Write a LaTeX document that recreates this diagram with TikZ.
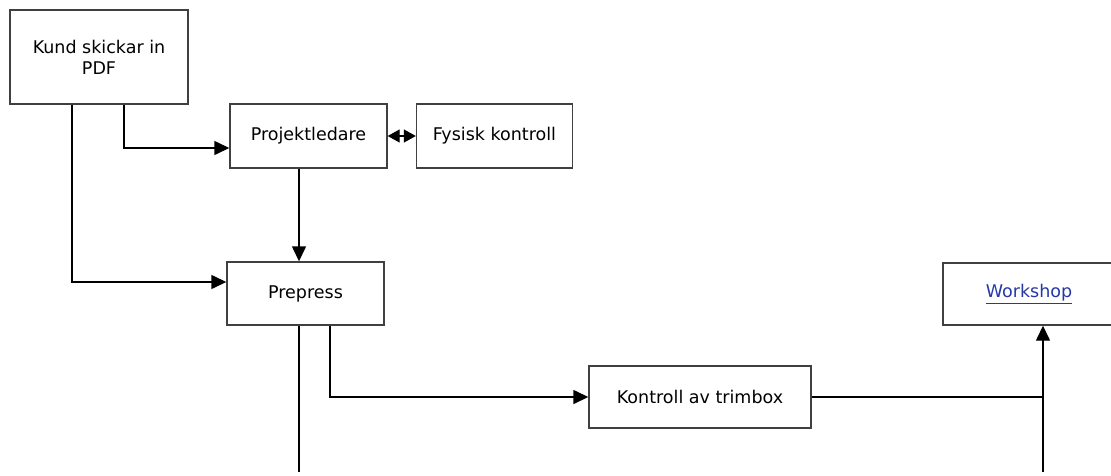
\documentclass[tikz,border=0pt]{standalone}
\usepackage{fontspec}
\setmainfont{DejaVu Sans}
\usetikzlibrary{arrows.meta}
\definecolor{boxline}{RGB}{64,64,64}
\definecolor{linkblue}{RGB}{36,56,168}
\begin{document}
\begin{tikzpicture}[x=1pt,y=-1pt,
  stepbox/.style={draw=boxline,line width=1.4pt,fill=white,inner sep=0pt,
    font=\fontsize{17.5}{21}\selectfont,align=center},
  flow/.style={draw=black,line width=1.4pt,-{Triangle[length=15pt,width=14pt]}},
  plain/.style={draw=black,line width=1.4pt}]
\clip (0,0) rectangle (1111,475);
\fill[white] (0,0) rectangle (1111,475);

% process boxes
\node[stepbox,minimum width=178pt,minimum height=94pt] (kund) at (99,57)
  {Kund skickar in\\PDF};
\node[stepbox,minimum width=157pt,minimum height=64pt] (proj) at (308.5,136)
  {Projektledare};
\node[stepbox,minimum width=156pt,minimum height=64pt] (fys) at (494.5,136)
  {Fysisk kontroll};
\node[stepbox,minimum width=157pt,minimum height=63pt] (pre) at (305.5,293.5)
  {Prepress};
\node[stepbox,minimum width=222pt,minimum height=62pt] (trim) at (700,397)
  {Kontroll av trimbox};
\node[stepbox,minimum width=172pt,minimum height=62pt] (work) at (1029,294)
  {\textcolor{linkblue}{\underline{Workshop}}};

% loose ends at the lower edge
\coordinate (preEnd) at (299,472);
\coordinate (workEnd) at (1043,472);

% connectors
\draw[flow] (kund.south -| 124,0) |- (proj.west |- 0,148);
\draw[flow] (kund.south -| 72,0) |- (pre.west |- 0,282);
\draw[flow] (proj.south -| 299,0) -- (pre.north -| 299,0);
\draw[draw=black,line width=1.4pt,{Triangle[length=12pt,width=13pt]}-{Triangle[length=12pt,width=13pt]}]
  (proj.east) -- (fys.west);
\draw[plain] (pre.south -| 299,0) -- (preEnd);
\draw[flow] (pre.south -| 330,0) |- (trim.west);
\draw[plain] (trim.east) -- (trim.east -| workEnd);
\draw[flow] (workEnd) -- (work.south -| workEnd);
\end{tikzpicture}
\end{document}
